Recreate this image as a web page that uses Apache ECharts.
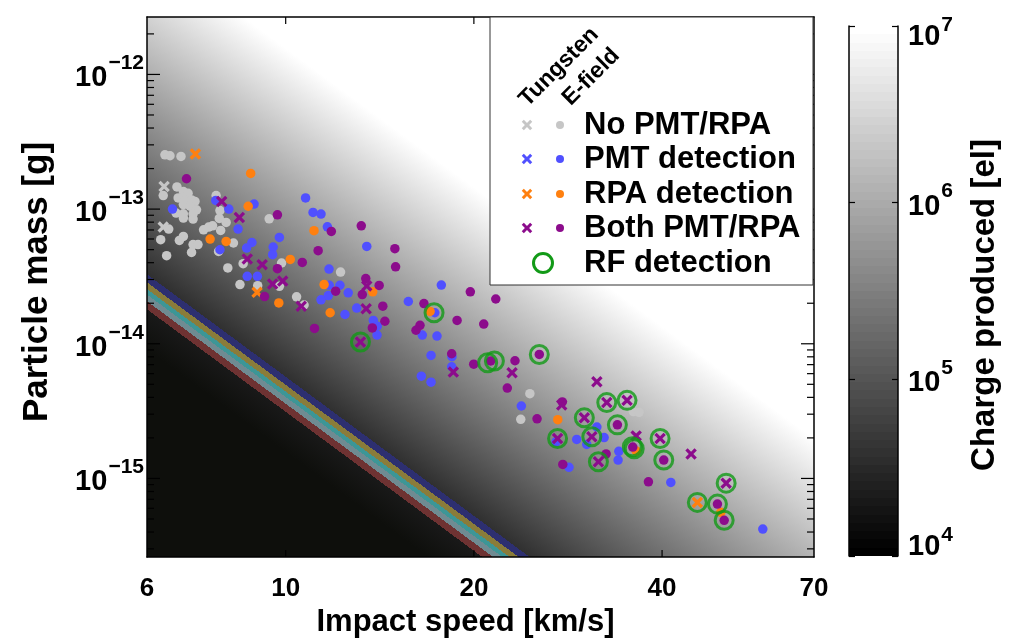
<!DOCTYPE html>
<html><head><meta charset="utf-8">
<script src="https://cdn.jsdelivr.net/npm/echarts@6/dist/echarts.min.js"></script>
<style>html,body{margin:0;padding:0;background:#fff}#c{width:1010px;height:643px}</style>
</head><body><div id="c"></div>
<script>
const FONT = '"Liberation Sans", Arial, Helvetica, sans-serif';

// axis ranges and ticks
const speedRange = [6, 70];
const massRange = [2.61e-16, 2.67e-12];
const chargeRange = [1e4, 1e7];
const speedTickLabels = [6, 10, 20, 40, 70];
const speedTicks = [10, 20, 40];
const massTicks = [1e-15, 1e-14, 1e-13, 1e-12];
const massMinorTicks = [3e-16,4e-16,5e-16,6e-16,7e-16,8e-16,9e-16,
  2e-15,3e-15,4e-15,5e-15,6e-15,7e-15,8e-15,9e-15,
  2e-14,3e-14,4e-14,5e-14,6e-14,7e-14,8e-14,9e-14,
  2e-13,3e-13,4e-13,5e-13,6e-13,7e-13,8e-13,9e-13, 2e-12];

// charge model  log10(Q) = coef + massExp*log10(m) + speedExp*log10(v)
const chargeLogCoef = 15.375;
const chargeSpeedExp = 3.43;
const chargeMassExp = 1;
// coloured threshold bands (log10 charge edges, low -> high)
const bandEdges = [4.30, 4.36, 4.41, 4.45, 4.50, 4.56];
const bandColors = ['#6e3232', '#6f8b92', '#3d9696', '#8a7c3a', '#2d2f70'];
const fieldFloorColor = '#0e0f0c';

// category names / colours
const categoryNames = ['No PMT/RPA', 'PMT detection', 'RPA detection', 'Both PMT/RPA'];
const categoryColors = ['#c6c6c6', '#5050ff', '#ff8010', '#8c0c8c'];
const rfColor = '#129a17';

// data: [impact speed km/s, particle mass g]
const noneEfield = [[6.41,2.53e-13],[6.53,2.49e-13],[6.80,2.46e-13],[6.37,1.26e-13],[6.70,1.46e-13],[6.86,1.35e-13],[6.98,1.31e-13],[6.73,1.21e-13],[6.90,1.17e-13],[7.07,1.17e-13],[7.16,1.14e-13],[6.86,1.08e-13],[7.03,1.05e-13],[7.20,9.88e-14],[6.86,9.23e-14],[7.11,9.23e-14],[7.11,8.43e-14],[6.86,8.58e-14],[6.68,9.34e-14],[7.74,1.26e-13],[7.85,9.76e-14],[9.41,8.47e-14],[7.83,8.52e-14],[8.03,7.96e-14],[6.50,7.11e-14],[7.39,7.02e-14],[7.53,7.35e-14],[7.64,7.52e-14],[7.87,6.94e-14],[6.31,5.93e-14],[6.76,5.85e-14],[6.86,6.27e-14],[8.25,5.60e-14],[7.11,5.45e-14],[7.24,5.45e-14],[7.81,4.85e-14],[7.07,4.77e-14],[6.45,4.51e-14],[8.08,3.66e-14],[9.85,3.98e-14],[8.55,3.93e-14],[8.45,2.75e-14],[9.02,2.70e-14],[9.77,2.67e-14],[10.41,2.23e-14],[10.70,1.94e-14],[12.24,3.41e-14],[24.58,4.26e-15],[23.77,2.75e-15],[35.99,3.14e-15],[36.75,3.10e-15]];
const noneTungsten = [[6.39,1.47e-13],[6.37,7.35e-14]];
const pmtEfield = [[6.59,1.00e-13],[7.73,1.16e-13],[8.11,1.00e-13],[8.90,1.09e-13],[8.39,7.11e-14],[8.83,5.65e-14],[8.66,5.14e-14],[7.85,4.99e-14],[9.77,6.16e-14],[9.55,5.23e-14],[9.53,4.59e-14],[8.68,3.17e-14],[9.01,3.17e-14],[10.76,1.21e-13],[11.06,9.44e-14],[11.39,9.18e-14],[11.66,7.39e-14],[13.48,5.28e-14],[11.73,3.59e-14],[11.74,2.72e-14],[12.21,2.72e-14],[11.70,2.28e-14],[11.39,2.12e-14],[12.59,2.39e-14],[12.99,1.84e-14],[12.44,1.65e-14],[17.74,2.73e-14],[15.71,2.06e-14],[13.81,1.49e-14],[14.01,1.35e-14],[14.00,1.16e-14],[17.32,1.70e-14],[16.54,1.16e-14],[17.46,1.14e-14],[17.08,8.19e-15],[18.45,8.01e-15],[18.43,6.75e-15],[16.48,5.75e-15],[17.08,5.19e-15],[23.82,3.45e-15],[27.07,1.87e-15],[29.21,1.95e-15],[31.46,2.41e-15],[32.31,2.01e-15],[30.31,1.79e-15],[34.11,1.59e-15],[34.02,1.37e-15],[28.39,1.21e-15],[41.31,9.34e-16],[57.97,4.21e-16]];
const pmtTungsten = [];
const rpaEfield = [[8.79,1.84e-13],[8.71,1.05e-13],[7.57,5.99e-14],[8.03,5.75e-14],[10.17,4.23e-14],[9.75,2.01e-14],[11.10,6.91e-14],[11.52,2.75e-14],[13.78,2.43e-14],[11.78,1.70e-14],[17.02,1.74e-14],[27.24,2.73e-15],[36.36,1.60e-15],[49.67,5.60e-16]];
const rpaTungsten = [[7.17,2.57e-13],[9.00,2.41e-14],[45.55,6.64e-16]];
const bothEfield = [[6.94,1.68e-13],[9.70,9.07e-14],[10.63,4.02e-14],[9.70,3.61e-14],[9.25,2.24e-14],[11.83,6.83e-14],[11.27,4.91e-14],[13.21,7.52e-14],[14.95,5.08e-14],[14.99,3.73e-14],[12.02,2.46e-14],[13.43,3.05e-14],[14.11,2.71e-14],[13.26,2.32e-14],[19.74,2.43e-14],[21.68,2.15e-14],[16.64,1.99e-14],[14.30,1.90e-14],[13.76,1.31e-14],[14.41,1.47e-14],[11.12,1.30e-14],[18.80,1.49e-14],[20.74,1.40e-14],[16.40,1.37e-14],[16.16,1.26e-14],[18.43,8.43e-15],[19.99,7.05e-15],[21.28,7.45e-15],[23.27,7.48e-15],[25.45,8.33e-15],[22.62,4.69e-15],[25.24,2.77e-15],[27.70,3.70e-15],[33.93,2.50e-15],[35.91,1.71e-15],[32.55,1.52e-15],[27.75,1.27e-15],[40.25,1.37e-15],[38.04,9.44e-16],[49.05,6.45e-16],[50.28,4.89e-16]];
const bothTungsten = [[7.90,1.14e-13],[8.43,8.66e-14],[8.68,4.26e-14],[9.17,3.87e-14],[9.53,2.78e-14],[9.89,2.92e-14],[10.59,1.90e-14],[13.48,2.69e-14],[13.45,1.82e-14],[13.17,1.03e-14],[18.54,6.16e-15],[23.02,6.10e-15],[27.64,3.51e-15],[31.46,5.23e-15],[30.04,2.82e-15],[27.22,1.98e-15],[30.88,2.04e-15],[32.63,3.66e-15],[35.16,3.80e-15],[36.36,2.07e-15],[31.64,1.33e-15],[39.71,1.98e-15],[44.51,1.52e-15],[50.65,9.23e-16]];
const rfDetection = [[17.27,1.70e-14],[13.17,1.03e-14],[21.04,7.23e-15],[21.57,7.45e-15],[25.45,8.33e-15],[30.04,2.82e-15],[27.22,1.98e-15],[30.88,2.04e-15],[32.63,3.66e-15],[35.16,3.80e-15],[33.93,2.50e-15],[35.85,1.72e-15],[36.10,1.66e-15],[31.64,1.33e-15],[39.71,1.98e-15],[40.25,1.37e-15],[50.65,9.23e-16],[45.55,6.64e-16],[49.05,6.45e-16],[50.28,4.89e-16]];

const X_PATH = 'path://M0,2L2,0L5,3L8,0L10,2L7,5L10,8L8,10L5,7L2,10L0,8L3,5Z';
const X_TEMPLATE = [[0,2],[2,0],[5,3],[8,0],[10,2],[7,5],[10,8],[8,10],[5,7],[2,10],[0,8],[3,5]];

function grayAt(f) {
  const g = Math.max(0, Math.min(255, Math.round(255 * f)));
  return 'rgb(' + g + ',' + g + ',' + g + ')';
}

function fieldStops() {
  const lo = Math.log10(chargeRange[0]), hi = Math.log10(chargeRange[1]);
  const off = q => (q - lo) / (hi - lo);
  const stops = [{offset: 0, color: fieldFloorColor}];
  const o0 = off(bandEdges[0]);
  stops.push({offset: o0, color: grayAt(o0)});
  for (let i = 0; i < bandColors.length; i++) {
    const a = off(bandEdges[i]), b = off(bandEdges[i + 1]);
    stops.push({offset: a, color: bandColors[i]});
    stops.push({offset: b, color: bandColors[i]});
  }
  const oN = off(bandEdges[bandEdges.length - 1]);
  stops.push({offset: oN, color: grayAt(oN)});
  stops.push({offset: 1, color: grayAt(1)});
  return stops;
}

function renderField(params, api) {
  const p0 = api.coord([speedRange[0], massRange[0]]);
  const p1 = api.coord([speedRange[1], massRange[1]]);
  const lx = Math.log10(speedRange[1] / speedRange[0]);
  const ly = Math.log10(massRange[1] / massRange[0]);
  const gx = chargeSpeedExp * lx / (p1[0] - p0[0]);
  const gy = chargeMassExp * ly / (p1[1] - p0[1]);
  const q0 = chargeLogCoef + chargeMassExp * Math.log10(massRange[0]) + chargeSpeedExp * Math.log10(speedRange[0]);
  const g2 = gx * gx + gy * gy;
  const lo = Math.log10(chargeRange[0]), hi = Math.log10(chargeRange[1]);
  const s = [p0[0] + gx * (lo - q0) / g2, p0[1] + gy * (lo - q0) / g2];
  const e = [p0[0] + gx * (hi - q0) / g2, p0[1] + gy * (hi - q0) / g2];
  return {
    type: 'rect',
    shape: {x: p0[0], y: p1[1], width: p1[0] - p0[0], height: p0[1] - p1[1]},
    style: {fill: {type: 'linear', x: s[0], y: s[1], x2: e[0], y2: e[1], global: true, colorStops: fieldStops()}}
  };
}

function renderColorbar(params, api) {
  const p0 = api.coord([0, chargeRange[0]]);
  const p1 = api.coord([1, chargeRange[1]]);
  const stops = [];
  const n = 64;
  for (let i = 0; i < n; i++) {
    const c = grayAt(i / (n - 1));
    stops.push({offset: i / n, color: c});
    stops.push({offset: (i + 1) / n, color: c});
  }
  return {
    type: 'rect',
    shape: {x: p0[0], y: p1[1], width: p1[0] - p0[0], height: p0[1] - p1[1]},
    style: {fill: {type: 'linear', x: 0, y: 1, x2: 0, y2: 0, colorStops: stops}}
  };
}

function yTickRenderer(len) {
  return function (params, api) {
    const v = api.value(1);
    const a = api.coord([speedRange[0], v]);
    const b = api.coord([speedRange[1], v]);
    const st = {stroke: '#000', lineWidth: 1.2};
    return {type: 'group', children: [
      {type: 'line', shape: {x1: a[0], y1: a[1], x2: a[0] + len, y2: a[1]}, style: st},
      {type: 'line', shape: {x1: b[0] - len, y1: b[1], x2: b[0], y2: b[1]}, style: st}
    ]};
  };
}
function xTickRenderer(len) {
  return function (params, api) {
    const v = api.value(0);
    const a = api.coord([v, massRange[0]]);
    const b = api.coord([v, massRange[1]]);
    const st = {stroke: '#000', lineWidth: 1.2};
    return {type: 'group', children: [
      {type: 'line', shape: {x1: a[0], y1: a[1], x2: a[0], y2: a[1] - len}, style: st},
      {type: 'line', shape: {x1: b[0], y1: b[1], x2: b[0], y2: b[1] + len}, style: st}
    ]};
  };
}

function expText(v) {
  const e = Math.round(Math.log10(v));
  return (e < 0 ? '\u2212' : '') + Math.abs(e);
}
function powLabel(v) {
  return '{b|10}{s|' + expText(v) + '}';
}
function colorbarLabel(v) {
  if (v >= chargeRange[1] * 0.999) return '{bt|10}{st|' + expText(v) + '}';
  if (v <= chargeRange[0] * 1.001) return '{bb|10}{sb|' + expText(v) + '}';
  return '{b|10}{s|' + expText(v) + '}';
}
const baseFont = {fontSize: 29, fontWeight: 'bold', fontFamily: FONT, color: '#000'};
const supFont = {fontSize: 21, fontWeight: 'bold', fontFamily: FONT, color: '#000'};
const powRich = {
  b: Object.assign({padding: [8, 0, 0, 0]}, baseFont),
  s: Object.assign({padding: [0, 0, 22, 1]}, supFont),
  bt: Object.assign({padding: [22, 0, 0, 0]}, baseFont),
  st: Object.assign({padding: [0, 0, 2, 1]}, supFont),
  bb: Object.assign({padding: [0, 0, 18, 0]}, baseFont),
  sb: Object.assign({padding: [0, 0, 42, 1]}, supFont)
};
const axisLineStyle = {show: true, onZero: false, lineStyle: {color: '#000', width: 1.5}};
const titleBase = {fontWeight: 'bold', fontFamily: FONT, color: '#000'};

function scatter(name, data, color, isX) {
  return {
    name: name, type: 'scatter', data: data, z: 4,
    symbol: isX ? X_PATH : 'circle', symbolSize: isX ? 11.5 : 9.5,
    itemStyle: {color: color, opacity: 1}, silent: true
  };
}
function xPolygon(cx, cy, size) {
  const k = size / 10;
  return X_TEMPLATE.map(function (p) { return [cx - size / 2 + p[0] * k, cy - size / 2 + p[1] * k]; });
}

const chart = echarts.init(document.getElementById('c'), null, {renderer: 'canvas'});

// legend graphic
const legendX = 490, legendY = 17, legendW = 323, legendH = 268;
const rowsY = [125, 159, 194, 228];
const legendEls = [
  {type: 'rect', shape: {x: legendX, y: legendY, width: legendW, height: legendH}, style: {fill: '#fff', stroke: '#333', lineWidth: 1}},
  {type: 'text', x: 559, y: 67, rotation: Math.PI / 4, style: {text: 'Tungsten', font: 'bold 23px ' + FONT, fill: '#000', align: 'center', verticalAlign: 'middle'}},
  {type: 'text', x: 591, y: 77, rotation: Math.PI / 4, style: {text: 'E-field', font: 'bold 23px ' + FONT, fill: '#000', align: 'center', verticalAlign: 'middle'}}
];
categoryNames.forEach(function (nm, i) {
  const y = rowsY[i];
  legendEls.push({type: 'polygon', shape: {points: xPolygon(527, y, 10.5)}, style: {fill: categoryColors[i]}});
  legendEls.push({type: 'circle', shape: {cx: 560, cy: y, r: 4}, style: {fill: categoryColors[i]}});
  legendEls.push({type: 'text', x: 584, y: y, style: {text: nm, font: 'bold 31px ' + FONT, fill: '#000', align: 'left', verticalAlign: 'middle'}});
});
legendEls.push({type: 'circle', shape: {cx: 543, cy: 263, r: 9.5}, style: {fill: 'none', stroke: rfColor, lineWidth: 3}});
legendEls.push({type: 'text', x: 584, y: 263, style: {text: 'RF detection', font: 'bold 31px ' + FONT, fill: '#000', align: 'left', verticalAlign: 'middle'}});
legendEls.forEach(function (el) { el.z = 100; el.silent = true; });

const option = {
  animation: false,
  backgroundColor: '#fff',
  grid: [
    {left: 147, top: 17, width: 667, height: 541, containLabel: false},
    {left: 849, top: 26, width: 49, height: 530, containLabel: false}
  ],
  xAxis: [
    {gridIndex: 0, type: 'log', min: speedRange[0], max: speedRange[1], position: 'bottom', z: 50,
     axisLine: axisLineStyle, axisTick: {show: false}, splitLine: {show: false},
     axisLabel: {customValues: speedTickLabels, formatter: function (v) { return String(Math.round(v)); },
       fontSize: 26, fontWeight: 'bold', fontFamily: FONT, color: '#000', margin: 19},
     name: 'Impact speed [km/s]', nameLocation: 'middle', nameGap: 50,
     nameTextStyle: Object.assign({fontSize: 31, padding: [0, 30, 0, 0]}, titleBase)},
    {gridIndex: 0, type: 'log', min: speedRange[0], max: speedRange[1], position: 'top', z: 50,
     axisLine: axisLineStyle, axisTick: {show: false}, axisLabel: {show: false}, splitLine: {show: false}},
    {gridIndex: 1, type: 'value', min: 0, max: 1, show: false}
  ],
  yAxis: [
    {gridIndex: 0, type: 'log', min: massRange[0], max: massRange[1], position: 'left', z: 50,
     axisLine: axisLineStyle, axisTick: {show: false}, splitLine: {show: false},
     axisLabel: {formatter: powLabel, rich: powRich, showMinLabel: false, showMaxLabel: false, margin: 3},
     name: 'Particle mass [g]', nameLocation: 'middle', nameGap: 92,
     nameTextStyle: Object.assign({fontSize: 35, padding: [0, 0, 0, 10]}, titleBase)},
    {gridIndex: 0, type: 'log', min: massRange[0], max: massRange[1], position: 'right', z: 50,
     axisLine: axisLineStyle, axisTick: {show: false}, axisLabel: {show: false}, splitLine: {show: false}},
    {gridIndex: 1, type: 'log', min: chargeRange[0], max: chargeRange[1], position: 'right', z: 50,
     axisLine: axisLineStyle, axisTick: {show: true, inside: true, length: 6, lineStyle: {color: '#000', width: 1.2}},
     splitLine: {show: false},
     axisLabel: {formatter: colorbarLabel, rich: powRich, margin: 10},
     name: 'Charge produced [el]', nameLocation: 'middle', nameGap: 70,
     nameTextStyle: Object.assign({fontSize: 33, padding: [0, 28, 0, 0]}, titleBase)},
    {gridIndex: 1, type: 'log', min: chargeRange[0], max: chargeRange[1], position: 'left', z: 50,
     axisLine: axisLineStyle, axisTick: {show: true, inside: true, length: 6, lineStyle: {color: '#000', width: 1.2}},
     axisLabel: {show: false}, splitLine: {show: false}}
  ],
  graphic: {elements: legendEls},
  series: [
    {type: 'custom', name: 'field', xAxisIndex: 0, yAxisIndex: 0, z: 1, silent: true,
     data: [[speedRange[0], massRange[0]]], renderItem: renderField},
    {type: 'custom', name: 'colorbar', xAxisIndex: 2, yAxisIndex: 2, z: 1, silent: true,
     data: [[0, chargeRange[0]]], renderItem: renderColorbar},
    {type: 'custom', name: 'yMinor', xAxisIndex: 0, yAxisIndex: 0, z: 3, silent: true,
     data: massMinorTicks.map(function (t) { return [speedRange[0], t]; }), renderItem: yTickRenderer(7)},
    {type: 'custom', name: 'yMajor', xAxisIndex: 0, yAxisIndex: 0, z: 3, silent: true,
     data: massTicks.map(function (t) { return [speedRange[0], t]; }), renderItem: yTickRenderer(13)},
    {type: 'custom', name: 'xMajor', xAxisIndex: 0, yAxisIndex: 0, z: 3, silent: true,
     data: speedTicks.map(function (t) { return [t, massRange[0]]; }), renderItem: xTickRenderer(7)},
    scatter('No PMT/RPA E-field', noneEfield, categoryColors[0], false),
    scatter('No PMT/RPA Tungsten', noneTungsten, categoryColors[0], true),
    scatter('PMT detection E-field', pmtEfield, categoryColors[1], false),
    scatter('PMT detection Tungsten', pmtTungsten, categoryColors[1], true),
    scatter('RPA detection E-field', rpaEfield, categoryColors[2], false),
    scatter('RPA detection Tungsten', rpaTungsten, categoryColors[2], true),
    scatter('Both PMT/RPA E-field', bothEfield, categoryColors[3], false),
    scatter('Both PMT/RPA Tungsten', bothTungsten, categoryColors[3], true),
    {name: 'RF detection', type: 'scatter', data: rfDetection, z: 5, silent: true,
     symbol: 'circle', symbolSize: 18,
     itemStyle: {color: 'rgba(0,0,0,0)', borderColor: rfColor, borderWidth: 3}}
  ]
};
chart.setOption(option);
</script></body></html>
